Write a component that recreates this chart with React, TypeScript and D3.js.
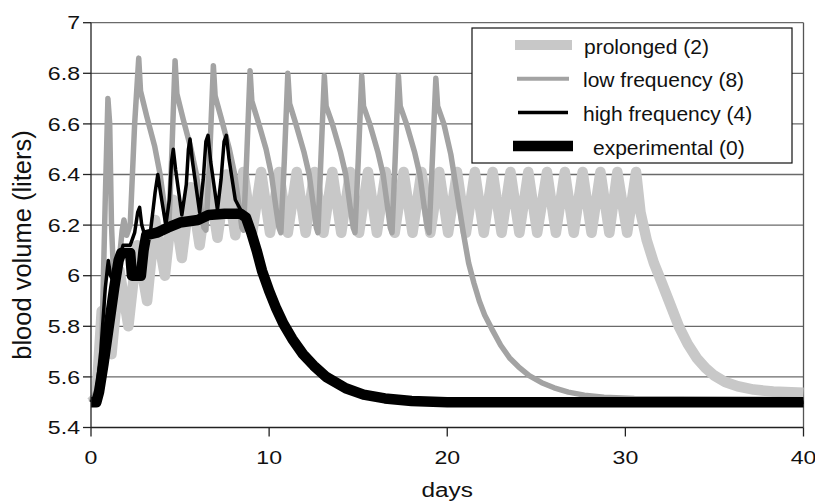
import React from "react";
import * as d3 from "d3";

// ---------- data (day, blood volume in liters) ----------
const seriesNames = ["prolonged (2)", "low frequency (8)", "high frequency (4)", "experimental (0)"];

const xTicks = [0, 10, 20, 30, 40];
const yTicks = [5.4, 5.6, 5.8, 6, 6.2, 6.4, 6.6, 6.8, 7];

const prolonged: [number, number][] = [
  [0, 5.5], [0.3, 5.52], [0.6, 5.86], [1.15, 5.69], [1.6, 6.02], [2.1, 5.8], [2.6, 6.12],
  [3.15, 5.9], [3.6, 6.22], [4.15, 6.0], [4.6, 6.3], [5.1, 6.07], [5.6, 6.35], [6.1, 6.12],
  [6.6, 6.38], [7.1, 6.15], [7.6, 6.4], [8.1, 6.16], [8.55, 6.41], [9.05, 6.17], [9.55, 6.41],
  [10.05, 6.17], [10.55, 6.41], [11.05, 6.17], [11.55, 6.41], [12.05, 6.17], [12.55, 6.41],
  [13.05, 6.17], [13.55, 6.41], [14.05, 6.17], [14.55, 6.41], [15.05, 6.17], [15.55, 6.41],
  [16.05, 6.17], [16.55, 6.41], [17.05, 6.17], [17.55, 6.41], [18.05, 6.17], [18.55, 6.41],
  [19.05, 6.17], [19.55, 6.41], [20.05, 6.17], [20.55, 6.41], [21.05, 6.17], [21.55, 6.41],
  [22.05, 6.17], [22.55, 6.41], [23.05, 6.17], [23.55, 6.41], [24.05, 6.17], [24.55, 6.41],
  [25.05, 6.17], [25.6, 6.41], [26.1, 6.17], [26.6, 6.41], [27.1, 6.17], [27.6, 6.41],
  [28.1, 6.17], [28.6, 6.41], [29.1, 6.17], [29.55, 6.41], [30.1, 6.17], [30.6, 6.41],
  [30.85, 6.25], [31.2, 6.14], [31.6, 6.05], [32.0, 5.98], [32.5, 5.89], [33.0, 5.8],
  [33.5, 5.73], [34.0, 5.675], [34.5, 5.635], [35.0, 5.605], [35.6, 5.58], [36.3, 5.563],
  [37.2, 5.55], [38.3, 5.542], [40, 5.537],
];

const lowFrequency: [number, number][] = [
  [0, 5.5], [0.35, 5.55], [0.6, 5.7], [0.8, 6.3], [0.95, 6.7], [1.05, 6.6], [1.15, 6.2],
  [1.3, 5.95], [1.5, 6.0], [1.75, 6.18], [1.85, 6.22], [2.0, 6.16], [2.2, 6.2], [2.45, 6.6], [2.68, 6.86],
  [2.78, 6.73], [3.13, 6.63], [3.58, 6.51], [3.88, 6.4], [4.13, 6.27], [4.28, 6.19], [4.36, 6.18], [4.52, 6.45], [4.72, 6.85],
  [4.82, 6.72], [5.17, 6.62], [5.62, 6.5], [5.92, 6.4], [6.17, 6.27], [6.34, 6.19], [6.45, 6.18], [6.65, 6.45], [6.87, 6.83],
  [6.97, 6.71], [7.32, 6.62], [7.77, 6.5], [8.07, 6.4], [8.32, 6.27], [8.47, 6.19], [8.56, 6.18], [8.73, 6.45], [8.93, 6.81],
  [9.03, 6.69], [9.38, 6.61], [9.83, 6.5], [10.13, 6.4], [10.38, 6.27], [10.55, 6.19], [10.66, 6.17], [10.85, 6.45], [11.05, 6.8],
  [11.15, 6.68], [11.5, 6.6], [11.95, 6.49], [12.25, 6.4], [12.5, 6.27], [12.65, 6.19], [12.74, 6.17], [12.9, 6.45], [13.1, 6.79],
  [13.2, 6.67], [13.55, 6.6], [14.0, 6.49], [14.3, 6.4], [14.55, 6.27], [14.72, 6.19], [14.82, 6.17], [15.0, 6.45], [15.2, 6.79],
  [15.3, 6.67], [15.65, 6.6], [16.1, 6.49], [16.4, 6.4], [16.65, 6.27], [16.8, 6.19], [16.9, 6.17], [17.07, 6.45], [17.26, 6.79],
  [17.36, 6.67], [17.71, 6.6], [18.16, 6.49], [18.46, 6.4], [18.71, 6.27], [18.88, 6.19], [18.98, 6.17], [19.16, 6.45], [19.36, 6.78],
  [19.46, 6.67], [19.81, 6.6], [20.2, 6.48], [20.54, 6.33], [20.9, 6.17], [21.2, 6.05], [21.5, 5.97],
  [21.8, 5.9], [22.1, 5.845], [22.5, 5.79], [23.0, 5.725], [23.5, 5.675], [24.0, 5.64], [24.6, 5.605],
  [25.3, 5.577], [26.0, 5.557], [26.8, 5.54], [27.7, 5.528], [28.8, 5.52], [30.5, 5.515], [40, 5.51],
];

const highFrequency: [number, number][] = [
  [0, 5.5], [0.3, 5.53], [0.55, 5.7], [0.8, 5.95], [0.97, 6.06], [1.1, 6.0], [1.3, 5.97], [1.55, 6.06],
  [1.8, 6.12], [2.2, 6.12], [2.45, 6.17], [2.62, 6.25], [2.73, 6.27], [2.85, 6.2], [3.1, 6.14], [3.35, 6.18],
  [3.6, 6.33], [3.75, 6.4], [3.9, 6.33], [4.2, 6.2], [4.4, 6.3], [4.52, 6.45], [4.62, 6.5], [4.75, 6.42],
  [5.1, 6.24], [5.35, 6.36], [5.47, 6.5], [5.56, 6.54], [5.7, 6.45], [6.1, 6.25], [6.3, 6.38], [6.45, 6.53],
  [6.57, 6.555], [6.72, 6.45], [7.1, 6.26], [7.3, 6.38], [7.47, 6.53], [7.6, 6.555], [7.75, 6.46], [8.1, 6.3],
  [8.4, 6.26], [8.7, 6.24], [9.0, 6.17], [9.3, 6.1], [9.6, 6.02], [10.0, 5.94], [10.4, 5.87], [10.8, 5.81],
  [11.3, 5.75], [11.9, 5.69], [12.5, 5.645], [13.2, 5.6], [14.3, 5.555], [15.3, 5.53], [16.5, 5.515],
  [18, 5.505], [20, 5.5], [40, 5.5],
];

const experimental: [number, number][] = [
  [0, 5.5], [0.3, 5.5], [0.45, 5.54], [0.7, 5.65], [1.0, 5.8], [1.3, 5.95], [1.55, 6.06], [1.7, 6.09],
  [2.2, 6.09], [2.3, 6.0], [2.8, 6.0], [2.95, 6.1], [3.1, 6.16], [3.7, 6.17], [4.3, 6.19], [5.0, 6.21],
  [6.0, 6.22], [6.6, 6.24], [7.5, 6.245], [8.4, 6.245], [8.7, 6.23], [9.0, 6.17], [9.3, 6.1], [9.6, 6.02],
  [10.0, 5.94], [10.4, 5.87], [10.8, 5.81], [11.3, 5.75], [11.9, 5.69], [12.5, 5.645], [13.2, 5.6],
  [14.3, 5.555], [15.3, 5.53], [16.5, 5.515], [18, 5.505], [20, 5.5], [40, 5.5],
];

const seriesData = [prolonged, lowFrequency, highFrequency, experimental];

// ---------- styles ----------
const seriesStyle = [
  { color: "#c8c8c8", width: 10.5 },
  { color: "#a3a3a3", width: 5.5 },
  { color: "#000000", width: 3.5 },
  { color: "#000000", width: 10.5 },
];
const legendStyle = [
  { x1: 515, x2: 572, width: 10, tx: 584 },
  { x1: 517, x2: 569, width: 4, tx: 583 },
  { x1: 518, x2: 568, width: 3.5, tx: 583 },
  { x1: 513, x2: 573, width: 10.5, tx: 593 },
];

const FONT = "'Liberation Sans', Arial, Helvetica, sans-serif";

export default function App() {
  const W = 815, H = 502;
  const x = d3.scaleLinear().domain([0, 40]).range([91, 803.5]);
  const y = d3.scaleLinear().domain([5.4, 7]).range([427.5, 22.7]);
  const line = d3.line<[number, number]>().x((d) => x(d[0])).y((d) => y(d[1]));

  return (
    <svg width={W} height={H} style={{ position: "absolute", left: 0, top: 0, background: "#fff" }} fontFamily={FONT}>
      <rect x={0} y={0} width={W} height={H} fill="#fff" />
      {/* gridlines */}
      {yTicks.filter((v) => v > 5.4).map((v) => (
        <line key={"g" + v} x1={x(0)} x2={x(40)} y1={y(v)} y2={y(v)} stroke="#6a6a6a" strokeWidth={1.3} />
      ))}
      {/* right frame */}
      <line x1={x(40)} x2={x(40)} y1={y(7)} y2={y(5.4)} stroke="#555" strokeWidth={1.3} />

      {/* series */}
      {seriesData.map((d, i) => (
        <path key={"s" + i} d={line(d) || ""} fill="none" stroke={seriesStyle[i].color}
          strokeWidth={seriesStyle[i].width} strokeLinejoin="round" strokeLinecap="butt" />
      ))}

      {/* axes */}
      <line x1={x(0)} x2={x(0)} y1={y(7)} y2={y(5.4)} stroke="#222" strokeWidth={1.3} />
      <line x1={x(0)} x2={x(40)} y1={y(5.4)} y2={y(5.4)} stroke="#222" strokeWidth={1.3} />
      {yTicks.map((v) => (
        <g key={"yt" + v}>
          <line x1={x(0) - 8} x2={x(0)} y1={y(v)} y2={y(v)} stroke="#222" strokeWidth={1.3} />
          <text transform={`translate(80,${y(v)}) scale(1.25,1)`} textAnchor="end" dy="0.36em" fontSize={18.5} fill="#111">
            {d3.format("~g")(v)}
          </text>
        </g>
      ))}
      {xTicks.map((v) => (
        <g key={"xt" + v}>
          <line x1={x(v)} x2={x(v)} y1={y(5.4)} y2={y(5.4) + 9} stroke="#222" strokeWidth={1.3} />
          <text transform={`translate(${x(v)},${y(5.4) + 36}) scale(1.25,1)`} textAnchor="middle" fontSize={18.5} fill="#111">
            {v}
          </text>
        </g>
      ))}
      <text transform={`translate(${x(20)},497) scale(1.25,1)`} textAnchor="middle" fontSize={19.5} fill="#111">days</text>
      <text transform="translate(31,245) rotate(-90)" textAnchor="middle" fontSize={25.5} fill="#111">blood volume (liters)</text>

      {/* legend */}
      <rect x={472} y={28} width={320} height={135} fill="#fff" stroke="#111" strokeWidth={1.2} />
      {seriesNames.map((name, i) => {
        const cy = 45 + i * 33.7;
        const ls = legendStyle[i];
        return (
          <g key={"l" + i}>
            <line x1={ls.x1} x2={ls.x2} y1={cy} y2={cy} stroke={seriesStyle[i].color} strokeWidth={ls.width} />
            <text x={ls.tx} y={cy + 8.5} fontSize={21} fill="#111">{name}</text>
          </g>
        );
      })}
    </svg>
  );
}
